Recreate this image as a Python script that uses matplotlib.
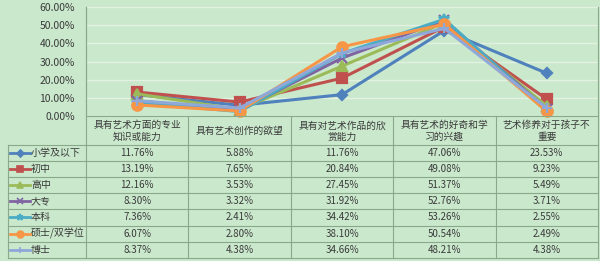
import numpy as np
import matplotlib
matplotlib.use('Agg')
import matplotlib.pyplot as plt
from matplotlib.lines import Line2D

plt.rcParams['font.family'] = ['Noto Sans CJK SC', 'DejaVu Sans']

### data
categories = ['具有艺术方面的专业\n知识或能力', '具有艺术创作的欲望', '具有对艺术作品的欣\n赏能力',
              '具有艺术的好奇和学\n习的兴趣', '艺术修养对于孩子不\n重要']
series = ['小学及以下', '初中', '高中', '大专', '本科', '硕士/双学位', '博士']
s_xiaoxue = [11.76, 5.88, 11.76, 47.06, 23.53]
s_chuzhong = [13.19, 7.65, 20.84, 49.08, 9.23]
s_gaozhong = [12.16, 3.53, 27.45, 51.37, 5.49]
s_dazhuan = [8.30, 3.32, 31.92, 52.76, 3.71]
s_benke = [7.36, 2.41, 34.42, 53.26, 2.55]
s_shuoshi = [6.07, 2.80, 38.10, 50.54, 2.49]
s_boshi = [8.37, 4.38, 34.66, 48.21, 4.38]
values = [s_xiaoxue, s_chuzhong, s_gaozhong, s_dazhuan, s_benke, s_shuoshi, s_boshi]
yticks = [0, 10, 20, 30, 40, 50, 60]

colors = ['#4F81BD', '#C0504D', '#9BBB59', '#8064A2', '#4BACC6', '#F79646', '#8FA8DA']
markers = ['D', 's', '^', 'x', '*', 'o', '+']
msizes = [5.5, 7, 6.5, 6.5, 7, 7.5, 7.5]

bg = '#cae8cc'
gridc = '#e3f2e0'
tablec = '#8aa98b'
textc = '#3a3a3a'

W, H = 600, 261
fig = plt.figure(figsize=(6, 2.61), dpi=100, facecolor=bg)

# pixel layout
x0, x1 = 86, 598
y_top, y_zero = 7, 116
y_head = 145
row_h = 16.1
leg_x = 8
ncat = len(categories)
cw = (x1 - x0) / ncat

### chart area
ax = fig.add_axes([x0 / W, 1 - y_zero / H, (x1 - x0) / W, (y_zero - y_top) / H])
ax.set_facecolor(bg)
ax.set_xlim(0, ncat)
ax.set_ylim(0, 60)
ax.set_yticks(yticks)
ax.set_yticklabels(['{0:.2f}%'.format(v) for v in yticks], fontsize=7.5, color=textc)
ax.tick_params(axis='y', length=0, pad=8)
ax.set_xticks([])
ax.grid(axis='y', color=gridc, linewidth=1.0)
ax.set_axisbelow(True)
for sp in ['top', 'bottom', 'right']:
    ax.spines[sp].set_visible(False)
ax.spines['left'].set_color(tablec)
ax.spines['left'].set_linewidth(0.8)

xc = np.arange(ncat) + 0.5
for k in range(len(series)):
    ax.plot(xc, values[k], color=colors[k], linewidth=2.2, marker=markers[k],
            markersize=msizes[k], markeredgewidth=1.6, clip_on=False, zorder=3 + k * 0.1)

### data table (drawn in pixel space)
tab = fig.add_axes([0, 0, 1, 1], facecolor='none')
tab.set_xlim(0, W)
tab.set_ylim(H, 0)
tab.axis('off')

y_end = y_head + row_h * len(series)
lw = 0.8
tab.plot([x0, x1], [y_zero, y_zero], color=tablec, lw=lw)
for r in range(len(series) + 1):
    yy = y_head + r * row_h
    tab.plot([leg_x, x1], [yy, yy], color=tablec, lw=lw)
tab.plot([leg_x, leg_x], [y_head, y_end], color=tablec, lw=lw)
for c in range(ncat + 1):
    xx = x0 + c * cw
    tab.plot([xx, xx], [y_top if c in (0, ncat) else y_zero, y_end], color=tablec, lw=lw)

# category headers
for c, name in enumerate(categories):
    tab.text(x0 + (c + 0.5) * cw, (y_zero + y_head) / 2 + 0.5, name, ha='center', va='center',
             fontsize=7, color=textc, linespacing=1.2)

# rows
for r, name in enumerate(series):
    yy = y_head + (r + 0.5) * row_h
    tab.add_line(Line2D([leg_x + 2, leg_x + 22], [yy, yy], color=colors[r], lw=2.0))
    tab.add_line(Line2D([leg_x + 12], [yy], color=colors[r], marker=markers[r],
                        markersize=msizes[r] * 0.65, markeredgewidth=1.2))
    tab.text(leg_x + 23, yy, name, ha='left', va='center', fontsize=7.2, color=textc)
    for c in range(ncat):
        tab.text(x0 + (c + 0.5) * cw, yy, '{0:.2f}%'.format(values[r][c]), ha='center',
                 va='center', fontsize=7, color=textc)

fig.savefig('out.png', dpi=100, facecolor=bg)
